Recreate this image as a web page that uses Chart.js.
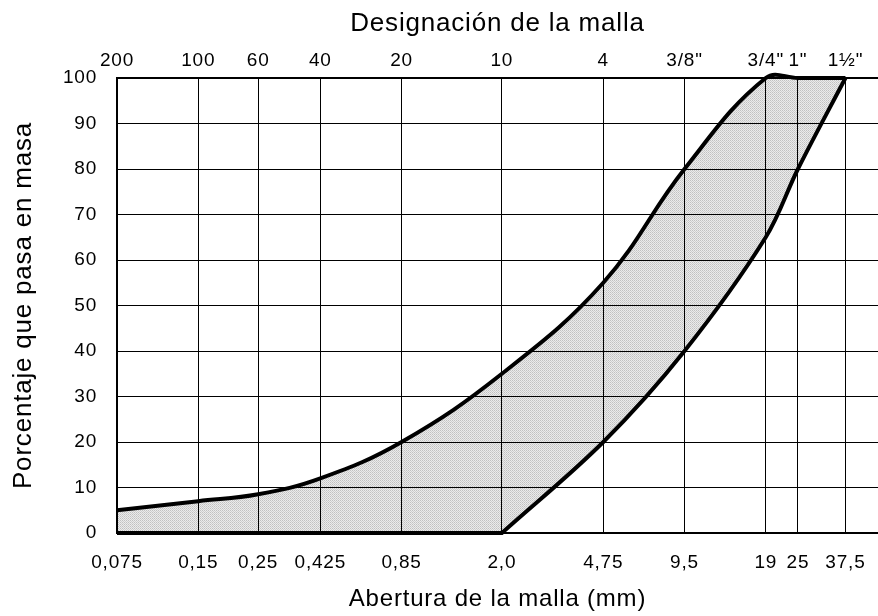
<!DOCTYPE html>
<html>
<head>
<meta charset="utf-8">
<script src="https://cdn.jsdelivr.net/npm/chart.js@4/dist/chart.umd.min.js"></script>
<style>
html,body{margin:0;padding:0;background:#fff;}
#wrap{width:878px;height:616px;position:relative;}
</style>
</head>
<body>
<div id="wrap"><canvas id="c" width="878" height="616"></canvas></div>
<script>
// Sieve openings (mm) used as tick positions
const sieveSizes = [0.075, 0.15, 0.25, 0.425, 0.85, 2.0, 4.75, 9.5, 19, 25, 37.5];
const bottomLabels = ['0,075', '0,15', '0,25', '0,425', '0,85', '2,0', '4,75', '9,5', '19', '25', '37,5'];
const topLabels = ['200', '100', '60', '40', '20', '10', '4', '3/8"', '3/4"', '1"', '1½"'];

// Upper limit curve
const upperX = [0.075, 0.15, 0.25, 0.425, 0.85, 2.0, 4.75, 9.5, 19, 25, 37.5];
const upperY = [5, 7, 8.5, 12, 20, 35, 55, 80, 100, 100, 100];
// Lower limit curve (the break at 2,0 mm is listed twice to keep the corner)
const lowerX = [0.075, 2.0, 2.0, 4.75, 9.5, 19, 25, 37.5];
const lowerY = [0, 0, 0, 20, 40, 65, 80, 100];

const yTicks = [0, 10, 20, 30, 40, 50, 60, 70, 80, 90, 100];

function makePattern() {
  const p = document.createElement('canvas');
  p.width = 2; p.height = 2;
  const g = p.getContext('2d');
  g.fillStyle = 'rgba(0,0,0,0.08)'; g.fillRect(0, 0, 2, 2);
  g.fillStyle = 'rgba(0,0,0,0.18)'; g.fillRect(0, 0, 1, 1);
  g.fillStyle = 'rgba(0,0,0,0.12)'; g.fillRect(1, 1, 1, 1);
  return document.getElementById('c').getContext('2d').createPattern(p, 'repeat');
}

const FONT = "'Liberation Sans', Arial, sans-serif";
const xMin = 0.075, xMax = 49.5;

const spacing = {
  id: 'spacing',
  beforeDraw(chart) { chart.ctx.letterSpacing = '0.8px'; }
};

function fitX(h) {
  return s => { s.height = h; s.paddingLeft = 0; s.paddingRight = 0; };
}

new Chart(document.getElementById('c'), {
  type: 'line',
  plugins: [spacing],
  data: {
    datasets: [
      {
        label: 'Superior',
        data: upperX.map((x, i) => ({ x: x, y: upperY[i] })),
        borderColor: '#000',
        borderWidth: 4,
        pointRadius: 0,
        tension: 0.4,
        capBezierPoints: false,
        clip: false,
        fill: { target: '+1' },
        backgroundColor: makePattern()
      },
      {
        label: 'Inferior',
        data: lowerX.map((x, i) => ({ x: x, y: lowerY[i] })),
        borderColor: '#000',
        borderWidth: 4,
        pointRadius: 0,
        tension: 0.35,
        clip: false,
        fill: false
      }
    ]
  },
  options: {
    responsive: false,
    animation: false,
    events: [],
    layout: { padding: 0 },
    plugins: { legend: { display: false }, tooltip: { enabled: false }, filler: { propagate: false } },
    scales: {
      x: {
        type: 'logarithmic',
        position: 'bottom',
        min: xMin, max: xMax,
        afterBuildTicks: s => { s.ticks = sieveSizes.map(v => ({ value: v })); },
        afterFit: fitX(83),
        ticks: {
          autoSkip: false, maxRotation: 0, padding: 18,
          color: '#000', font: { family: FONT, size: 19 },
          callback: (v, i) => bottomLabels[i]
        },
        grid: { color: '#000', lineWidth: 1, drawTicks: false },
        border: { color: '#000', width: 2 },
        title: { display: true, text: 'Abertura de la malla (mm)', color: '#000',
                 font: { family: FONT, size: 24 }, padding: { top: 0, bottom: 2 } }
      },
      x2: {
        type: 'logarithmic',
        position: 'top',
        min: xMin, max: xMax,
        afterBuildTicks: s => { s.ticks = sieveSizes.map(v => ({ value: v })); },
        afterFit: fitX(78),
        ticks: {
          autoSkip: false, maxRotation: 0, padding: 6,
          color: '#000', font: { family: FONT, size: 19 },
          callback: (v, i) => topLabels[i]
        },
        grid: { display: false, drawTicks: false },
        border: { color: '#000', width: 2 },
        title: { display: true, text: 'Designación de la malla', color: '#000',
                 font: { family: FONT, size: 26 }, padding: { top: 8, bottom: 2 } }
      },
      y: {
        min: 0, max: 100,
        afterBuildTicks: s => { s.ticks = yTicks.map(v => ({ value: v })); },
        afterFit: s => { s.width = 117; },
        ticks: { padding: 20, color: '#000', font: { family: FONT, size: 19 } },
        grid: { color: '#000', lineWidth: 1, drawTicks: false },
        border: { color: '#000', width: 2 },
        title: { display: true, text: 'Porcentaje que pasa en masa', color: '#000',
                 font: { family: FONT, size: 26 }, padding: { top: 8, bottom: 0 } }
      }
    }
  }
});
</script>
</body>
</html>
